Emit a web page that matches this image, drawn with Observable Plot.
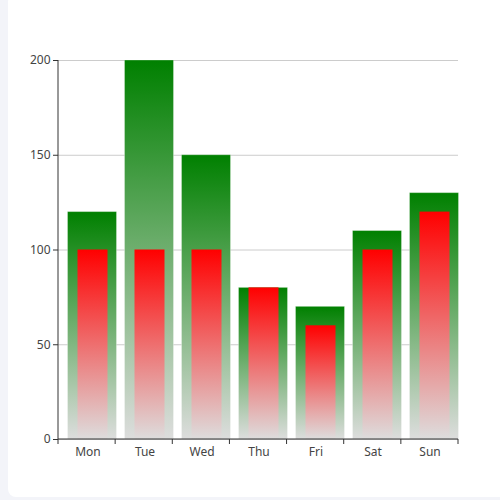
<!DOCTYPE html>
<html>
<head>
<meta charset="utf-8">
<script src="https://cdn.jsdelivr.net/npm/d3@7"></script>
<script src="https://cdn.jsdelivr.net/npm/@observablehq/plot@0.6"></script>
<style>
  html, body { margin: 0; padding: 0; background: #f3f4f9; width: 500px; height: 500px; overflow: hidden; }
  #card { position: absolute; left: 8px; top: -6px; width: 520px; height: 503px; background: #fff; border-radius: 8px; }
  #chart { position: absolute; left: 0; top: 0; }
  #chart svg { background: transparent; }
</style>
</head>
<body>
<div id="card"></div>
<div id="chart"></div>
<script>
// chart values
var days = ['Mon', 'Tue', 'Wed', 'Thu', 'Fri', 'Sat', 'Sun'];
var greenValues = [120, 200, 150, 80, 70, 110, 130];
var redValues = [100, 100, 100, 80, 60, 100, 120];
var yTicks = [0, 50, 100, 150, 200];

var greenData = days.map((d, i) => ({day: d, value: greenValues[i]}));
var redData = days.map((d, i) => ({day: d, value: redValues[i]}));

// gradients, one per bar (objectBoundingBox)
function gradients() {
  var defs = d3.create('svg:defs');
  [['gGreen', '#008000'], ['gRed', '#ff0000']].forEach(([id, top]) => {
    var lg = defs.append('linearGradient').attr('id', id)
      .attr('x1', 0).attr('y1', 0).attr('x2', 0).attr('y2', 1);
    lg.append('stop').attr('offset', '0%').attr('stop-color', top);
    lg.append('stop').attr('offset', '100%').attr('stop-color', '#dddddd');
  });
  return defs.node();
}

// axis lines and the category ticks that sit on band boundaries
function axisLines(index, scales, values, dims) {
  var g = d3.create('svg:g').attr('stroke', '#333').attr('stroke-width', 1);
  var x0 = dims.marginLeft, x1 = dims.width - dims.marginRight;
  var y0 = scales.y(0), y1 = scales.y(200);
  g.append('line').attr('x1', x0).attr('x2', x0).attr('y1', y0).attr('y2', y1);
  g.append('line').attr('x1', x0).attr('x2', x1).attr('y1', y0).attr('y2', y0);
  var step = (x1 - x0) / days.length;
  d3.range(days.length + 1).forEach((i) => {
    var x = x0 + i * step;
    g.append('line').attr('x1', x).attr('x2', x).attr('y1', y0).attr('y2', y0 + 5);
  });
  return g.node();
}

var plot = Plot.plot({
  width: 500,
  height: 500,
  marginTop: 60,
  marginBottom: 61,
  marginLeft: 58,
  marginRight: 42,
  style: {fontFamily: '"Noto Sans", sans-serif', fontSize: '12px', color: '#444', background: 'transparent'},
  x: {domain: days, padding: 0, label: null},
  y: {domain: [0, 200], label: null},
  marks: [
    gradients,
    Plot.gridY(yTicks, {stroke: '#cccccc', strokeOpacity: 1}),
    Plot.barY(greenData, {x: 'day', y: 'value', fill: 'url(#gGreen)', insetLeft: 8.5, insetRight: -0.5,
      stroke: '#ffffff', strokeOpacity: 0.3}),
    Plot.barY(redData, {x: 'day', y: 'value', fill: 'url(#gRed)', insetLeft: 18.5, insetRight: 8.5}),
    Plot.axisY({ticks: yTicks, tickSize: 5, tickPadding: 3, stroke: '#333', label: null}),
    Plot.axisX({tickSize: 0, tickPadding: 8, label: null}),
    axisLines
  ]
});

document.getElementById('chart').appendChild(plot);
</script>
</body>
</html>
